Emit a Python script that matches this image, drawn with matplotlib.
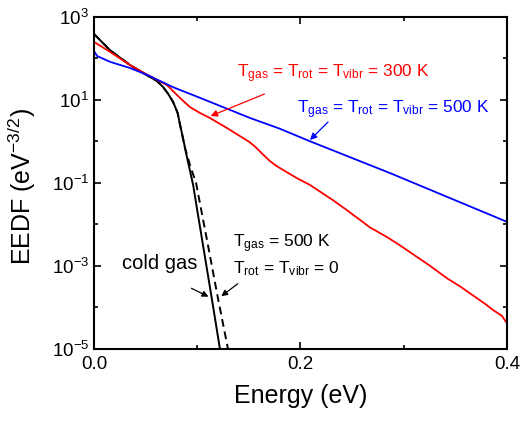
import numpy as np
import matplotlib
matplotlib.use("Agg")
import matplotlib.pyplot as plt

plt.rcParams['font.family'] = ['Liberation Sans', 'DejaVu Sans']
plt.rcParams['mathtext.fontset'] = 'custom'
plt.rcParams['mathtext.rm'] = 'Liberation Sans'
plt.rcParams['mathtext.it'] = 'Liberation Sans'
plt.rcParams['mathtext.default'] = 'regular'

# EEDF curves, energies in eV, values as log10(EEDF)
e_cold = [0.000, 0.0155, 0.035, 0.051, 0.061, 0.067, 0.0715, 0.0765, 0.081,
          0.0833, 0.086, 0.090, 0.096, 0.100, 0.114, 0.122]
lg_cold = [2.58, 2.19, 1.83, 1.59, 1.45, 1.30, 1.15, 0.95, 0.68,
           0.40, 0.10, -0.38, -1.05, -1.66, -3.77, -5.0]

e_500k_cold = [0.000, 0.0155, 0.035, 0.051, 0.061, 0.067, 0.0715, 0.0765, 0.081,
               0.0833, 0.088, 0.0935, 0.0988, 0.110, 0.120, 0.1298]
lg_500k_cold = [2.58, 2.19, 1.83, 1.59, 1.45, 1.30, 1.15, 0.95, 0.68,
                0.40, -0.15, -0.62, -1.0, -2.45, -3.77, -5.0]

e_300k = [0.000, 0.0155, 0.035, 0.0523, 0.0707, 0.0833, 0.093, 0.1027, 0.1123,
          0.1288, 0.1443, 0.150, 0.156, 0.1637, 0.1705, 0.177, 0.183, 0.1966,
          0.209, 0.2315, 0.245, 0.258, 0.267, 0.284, 0.296, 0.306, 0.325, 0.342,
          0.355, 0.367, 0.378, 0.387, 0.395, 0.400]
lg_300k = [2.39, 2.15, 1.83, 1.59, 1.35, 1.04, 0.82, 0.678, 0.558,
           0.317, 0.077, -0.01, -0.13, -0.32, -0.48, -0.60, -0.69, -0.89,
           -1.05, -1.42, -1.66, -1.90, -2.07, -2.31, -2.50, -2.67, -2.99, -3.30,
           -3.50, -3.71, -3.90, -4.07, -4.20, -4.38]

e_500k = [0.000, 0.003, 0.0155, 0.035, 0.052, 0.0765, 0.103, 0.151, 0.180,
          0.209, 0.287, 0.400]
lg_500k = [2.17, 2.05, 1.91, 1.76, 1.59, 1.30, 1.04, 0.56, 0.30,
           0.0, -0.77, -1.94]

fig = plt.figure(figsize=(5.21, 4.21), dpi=100)
ax = fig.add_axes([0.1804, 0.171, 0.7927, 0.7898])

ax.plot(e_cold, 10 ** np.array(lg_cold), color='black', lw=1.4)
ax.plot(e_500k_cold, 10 ** np.array(lg_500k_cold), color='black', lw=1.4, ls=(0, (4, 2.5)))
ax.plot(e_300k, 10 ** np.array(lg_300k), color='red', lw=1.3)
ax.plot(e_500k, 10 ** np.array(lg_500k), color='blue', lw=1.3)

ax.set_yscale('log')
ax.set_xlim(0, 0.4)
ax.set_ylim(1e-5, 1e3)

yt = [1e-5, 1e-3, 1e-1, 1e1, 1e3]
ax.set_yticks(yt)
ax.set_yticklabels([r'$10^{-5}$', r'$10^{-3}$', r'$10^{-1}$', r'$10^{1}$', r'$10^{3}$'])
ax.set_yticks([1e-4, 1e-2, 1e0, 1e2], minor=True)
ax.set_yticklabels([], minor=True)
ax.set_xticks([0.0, 0.2, 0.4])
ax.set_xticklabels(['0.0', '0.2', '0.4'])
ax.set_xticks([0.1, 0.3], minor=True)

ax.tick_params(which='both', direction='in', top=True, right=True, labelsize=13.5, width=1.2)
ax.tick_params(which='major', length=5)
ax.tick_params(which='minor', length=3)
ax.tick_params(axis='x', pad=5)
for s in ax.spines.values():
    s.set_linewidth(1.5)

ax.set_xlabel('Energy (eV)', fontsize=18, labelpad=8)
ax.set_ylabel(r'EEDF (eV$^{-3/2}$)', fontsize=18)
ax.yaxis.set_label_coords(-0.135, 0.49)

# labels and arrows
ax.annotate('', xy=(0.1104, 10 ** 0.58), xytext=(0.1676, 10 ** 1.16),
            arrowprops=dict(arrowstyle='-|>', color='red', lw=0.9, mutation_scale=10))
ax.text(0.1385, 10 ** 1.54, r'T$_{gas}$ = T$_{rot}$ = T$_{vibr}$ = 300 K',
        color='red', fontsize=12.4, ha='left', va='baseline')

ax.annotate('', xy=(0.2073, 10 ** -0.02), xytext=(0.2286, 10 ** 0.51),
            arrowprops=dict(arrowstyle='-|>', color='blue', lw=0.9, mutation_scale=10))
ax.text(0.1966, 10 ** 0.68, r'T$_{gas}$ = T$_{rot}$ = T$_{vibr}$ = 500 K',
        color='blue', fontsize=12.4, ha='left', va='baseline')

ax.annotate('', xy=(0.1133, 10 ** -3.77), xytext=(0.092, 10 ** -3.51),
            arrowprops=dict(arrowstyle='-|>', color='black', lw=0.9, mutation_scale=9))
ax.text(0.064, 10 ** -3.08, 'cold gas', color='black', fontsize=14.5, ha='center', va='baseline')

ax.annotate('', xy=(0.1211, 10 ** -3.77), xytext=(0.1414, 10 ** -3.39),
            arrowprops=dict(arrowstyle='-|>', color='black', lw=0.9, mutation_scale=9))
ax.text(0.1345, 10 ** -2.55, r'T$_{gas}$ = 500 K', color='black', fontsize=12.5, ha='left', va='baseline')
ax.text(0.1345, 10 ** -3.17, r'T$_{rot}$ = T$_{vibr}$ = 0', color='black', fontsize=12.5, ha='left', va='baseline')

fig.savefig('out.png', dpi=100)
